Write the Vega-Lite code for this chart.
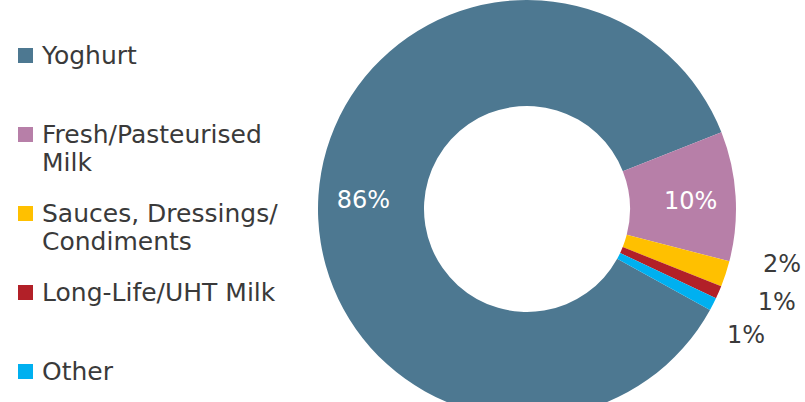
{
  "$schema": "https://vega.github.io/schema/vega-lite/v6.json",
  "width": 444,
  "height": 418,
  "autosize": {"type": "none"},
  "padding": {"left": 305, "top": 0, "right": 56, "bottom": 0},
  "background": "white",
  "data": {
    "values": [
      {"order": 1, "category": "Yoghurt", "share": 86, "label": "86%"},
      {"order": 2, "category": "Fresh/Pasteurised Milk", "share": 10, "label": "10%"},
      {"order": 3, "category": "Sauces, Dressings/Condiments", "share": 2, "label": "2%"},
      {"order": 4, "category": "Long-Life/UHT Milk", "share": 1, "label": "1%"},
      {"order": 5, "category": "Other", "share": 1, "label": "1%"}
    ]
  },
  "transform": [
    {"window": [{"op": "sum", "field": "share", "as": "end"}], "sort": [{"field": "order", "order": "ascending"}], "frame": [null, 0]},
    {"calculate": "datum.end - datum.share", "as": "start"},
    {"calculate": "(datum.start + datum.end) / 2", "as": "mid"}
  ],
  "layer": [
    {
      "mark": {"type": "arc", "outerRadius": 209, "innerRadius": 103},
      "encoding": {
        "theta": {"field": "start", "type": "quantitative", "scale": {"domain": [0, 100], "range": [2.075, 8.3582]}},
        "theta2": {"field": "end"},
        "color": {
          "field": "category",
          "type": "nominal",
          "scale": {
            "domain": ["Yoghurt", "Fresh/Pasteurised Milk", "Sauces, Dressings/Condiments", "Long-Life/UHT Milk", "Other"],
            "range": ["#4D7891", "#B77FA8", "#FFC000", "#B22028", "#00B0F0"]
          },
          "legend": {
            "title": null,
            "orient": "none",
            "legendX": -292,
            "legendY": 43,
            "padding": 0,
            "symbolType": "square",
            "symbolSize": 225,
            "symbolStrokeWidth": 0,
            "labelFont": "DejaVu Sans",
            "labelFontSize": 25,
            "labelColor": "#3A3A3A",
            "labelOffset": 4,
            "labelLimit": 0,
            "labelBaseline": "middle",
            "rowPadding": 25,
            "labelExpr": "datum.label == 'Fresh/Pasteurised Milk' ? ['Fresh/Pasteurised', 'Milk'] : datum.label == 'Sauces, Dressings/Condiments' ? ['Sauces, Dressings/', 'Condiments'] : [datum.label, ' ']"
          }
        }
      }
    },
    {
      "transform": [{"filter": "datum.share >= 10"}],
      "mark": {"type": "text", "radius": 164, "dy": 3, "font": "DejaVu Sans", "fontSize": 24, "fill": "white", "align": "center", "baseline": "middle"},
      "encoding": {
        "theta": {"field": "mid", "type": "quantitative"},
        "text": {"field": "label"}
      }
    },
    {
      "transform": [{"filter": "datum.category == 'Sauces, Dressings/Condiments'"}],
      "mark": {"type": "text", "radius": 261, "thetaOffset": -0.0995, "font": "DejaVu Sans", "fontSize": 24, "fill": "#3A3A3A", "align": "center", "baseline": "middle"},
      "encoding": {
        "theta": {"field": "mid", "type": "quantitative"},
        "text": {"field": "label"}
      }
    },
    {
      "transform": [{"filter": "datum.category == 'Long-Life/UHT Milk'"}],
      "mark": {"type": "text", "radius": 267, "thetaOffset": -0.049, "font": "DejaVu Sans", "fontSize": 24, "fill": "#3A3A3A", "align": "center", "baseline": "middle"},
      "encoding": {
        "theta": {"field": "mid", "type": "quantitative"},
        "text": {"field": "label"}
      }
    },
    {
      "transform": [{"filter": "datum.category == 'Other'"}],
      "mark": {"type": "text", "radius": 253, "thetaOffset": 0.051, "font": "DejaVu Sans", "fontSize": 24, "fill": "#3A3A3A", "align": "center", "baseline": "middle"},
      "encoding": {
        "theta": {"field": "mid", "type": "quantitative"},
        "text": {"field": "label"}
      }
    }
  ],
  "config": {
    "view": {"stroke": null},
    "style": {"guide-label": {"lineHeight": 28}}
  }
}
